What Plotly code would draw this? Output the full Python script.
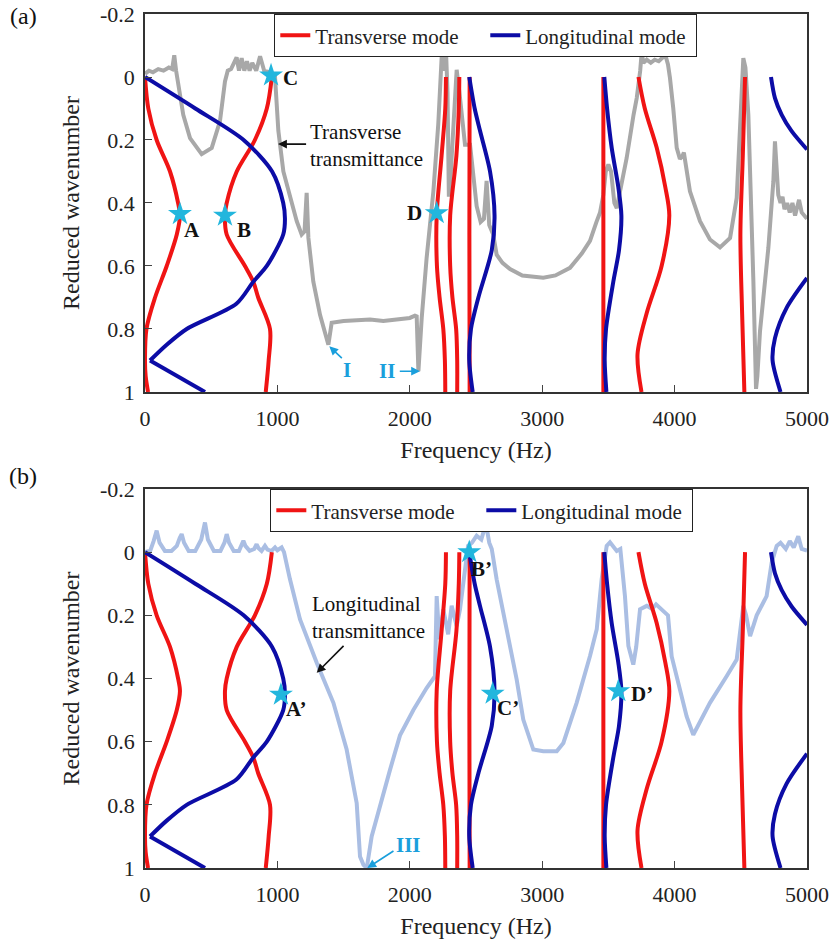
import plotly.graph_objects as go

# ---------------- data (frequency in Hz, reduced wavenumber) ----------------
# Transverse (red) dispersion branches: k values and frequencies
T1_k = [0, 0.1, 0.2, 0.3, 0.4, 0.44, 0.5, 0.6, 0.7, 0.8, 0.9, 0.95, 1.0]
T1_f = [0, 25, 88, 189, 250, 264, 240, 164, 76, 11, 0, 5, 23]
T2_k = [0, 0.1, 0.2, 0.3, 0.4, 0.44, 0.5, 0.6, 0.65, 0.7, 0.8, 0.9, 1.0]
T2_f = [958, 920, 830, 693, 617, 604, 617, 755, 818, 855, 944, 934, 912]
T3_k = [0, 0.1, 0.25, 0.44, 0.6, 0.7, 0.8, 0.9, 1.0]
T3_f = [2273, 2268, 2240, 2203, 2205, 2225, 2253, 2265, 2268]
T4_k = [0, 0.1, 0.25, 0.44, 0.6, 0.7, 0.8, 0.9, 1.0]
T4_f = [2374, 2370, 2352, 2305, 2305, 2322, 2350, 2358, 2358]
T5_k = [0, 0.5, 1.0]
T5_f = [2452, 2450, 2452]
T6_k = [0, 0.5, 1.0]
T6_f = [3462, 3462, 3462]
T7_k = [0, 0.1, 0.225, 0.35, 0.44, 0.6, 0.75, 0.88, 1.0]
T7_f = [3727, 3775, 3865, 3930, 3960, 3902, 3789, 3720, 3750]
T8_k = [0, 0.25, 0.5, 0.75, 1.0]
T8_f = [4532, 4515, 4497, 4510, 4527]

# Longitudinal (blue) dispersion branches
L1a_k = [0, 0.1, 0.2, 0.3, 0.4, 0.45, 0.5, 0.6, 0.65, 0.72, 0.8, 0.85, 0.9]
L1a_f = [0, 380, 745, 960, 1044, 1057, 1044, 920, 818, 690, 315, 164, 38]
L1b_k = [0.9, 0.95, 1.0]
L1b_f = [38, 245, 453]
L2_k = [0, 0.1, 0.17, 0.3, 0.44, 0.55, 0.7, 0.8, 0.9, 1.0]
L2_f = [2449, 2490, 2530, 2606, 2640, 2619, 2518, 2462, 2449, 2475]
L3_k = [0, 0.1, 0.225, 0.35, 0.44, 0.55, 0.65, 0.8, 0.9, 1.0]
L3_f = [3469, 3490, 3525, 3575, 3598, 3580, 3537, 3482, 3472, 3485]
L4a_k = [0, 0.067, 0.12, 0.172, 0.23]
L4a_f = [4728, 4758, 4809, 4884, 5000]
L4b_k = [0.638, 0.733, 0.829, 0.9, 1.0]
L4b_f = [5000, 4846, 4758, 4740, 4800]

# Transverse transmittance (gray, panel a)
TT_f = [0, 30, 60, 100, 140, 180, 205, 221, 235, 252, 289, 340, 428, 504, 566, 604, 625,
        650, 692, 710, 730, 750, 770, 790, 810, 840, 869, 900, 940, 982, 1007, 1045, 1095,
        1146, 1183, 1205, 1221, 1234, 1271, 1322, 1385, 1410, 1500, 1600, 1700, 1800, 1900,
        2000, 2039, 2052, 2065, 2090, 2127, 2178, 2215, 2241, 2258, 2273, 2285, 2295, 2310,
        2340, 2354, 2375, 2417, 2455, 2505, 2535, 2560, 2580, 2600, 2630, 2656, 2700, 2757,
        2850, 3008, 3100, 3210, 3300, 3361, 3410, 3437, 3462, 3480, 3500, 3520, 3545, 3563,
        3580, 3638, 3690, 3714, 3740, 3751, 3765, 3790, 3820, 3850, 3880, 3910, 3930, 3950,
        3965, 3990, 4016, 4040, 4060, 4070, 4090, 4116, 4192, 4267, 4343, 4419, 4469, 4494,
        4519, 4535, 4557, 4595, 4615, 4625, 4645, 4708, 4746, 4758, 4770, 4783, 4800, 4815,
        4830, 4850, 4870, 4890, 4910, 4940, 4960, 4980, 5000]
TT_k = [-0.01, -0.02, -0.015, -0.025, -0.02, -0.03, -0.025, -0.069, -0.02, 0.024, 0.12, 0.194, 0.245, 0.225, 0.141, 0.014, -0.02,
        -0.025, -0.062, -0.02, -0.06, -0.02, -0.05, -0.02, -0.045, -0.02, -0.066, -0.02, -0.015, 0.0, 0.17, 0.3, 0.384,
        0.458, 0.5, 0.49, 0.368, 0.511, 0.649, 0.755, 0.85, 0.78, 0.775, 0.772, 0.77, 0.775, 0.77,
        0.765, 0.758, 0.76, 0.934, 0.765, 0.575, 0.363, 0.15, -0.066, -0.02, -0.087, 0.05, 0.38, 0.3,
        0.05, -0.023, 0.05, 0.215, 0.215, 0.41, 0.46, 0.45, 0.33, 0.47, 0.5, 0.564, 0.59, 0.61,
        0.63, 0.637, 0.63, 0.606, 0.56, 0.52, 0.46, 0.43, 0.374, 0.3, 0.278, 0.3, 0.4, 0.416,
        0.38, 0.257, 0.12, 0.067, -0.02, -0.076, -0.045, -0.055, -0.045, -0.055, -0.05, -0.06, -0.07, -0.04,
        0.003, 0.1, 0.225, 0.26, 0.25, 0.24, 0.3, 0.363, 0.458, 0.516, 0.541, 0.511, 0.384, 0.172,
        -0.06, -0.03, 0.12, 0.649, 0.99, 0.95, 0.807, 0.543, 0.331, 0.204, 0.3, 0.374, 0.4, 0.38,
        0.42, 0.4, 0.43, 0.4, 0.44, 0.39, 0.43, 0.44, 0.45]

# Longitudinal transmittance (light blue, panel b)
LT_f = [0, 40, 65, 88, 110, 150, 200, 240, 262, 277, 295, 330, 380, 425, 453, 475, 520,
        570, 600, 617, 635, 670, 710, 730, 743, 758, 790, 825, 843, 858, 880, 906, 925,
        955, 982, 1000, 1020, 1032, 1050, 1095, 1171, 1297, 1423, 1523, 1599, 1624,
        1650, 1675, 1712, 1775, 1850, 1926, 2027, 2127, 2190, 2203, 2223, 2253, 2290, 2316,
        2354, 2379, 2417, 2440, 2470, 2505, 2540, 2575, 2600, 2619, 2656, 2732, 2807, 2857,
        2933, 3008, 3110, 3160, 3260, 3361, 3412, 3449, 3487, 3512, 3540, 3563, 3590, 3625,
        3651, 3688, 3710, 3739, 3790, 3830, 3860, 3900, 3950, 3978, 4016, 4091, 4141, 4267,
        4393, 4469, 4519, 4540, 4570, 4620, 4695, 4733, 4771, 4800, 4840, 4870, 4900, 4934,
        4960, 5000]
LT_k = [0.0, -0.005, -0.035, -0.068, -0.03, -0.004, -0.004, -0.02, -0.045, -0.057, -0.03, -0.004, -0.004, -0.04, -0.094, -0.04, -0.004,
        -0.004, -0.03, -0.057, -0.03, -0.004, -0.004, -0.025, -0.036, -0.02, -0.004, -0.01, -0.025, -0.012, -0.004, -0.02, -0.008,
        -0.004, -0.015, -0.006, -0.012, -0.015, 0.0, 0.086, 0.213, 0.35, 0.477, 0.625, 0.795, 0.964,
        0.99, 1.0, 0.9, 0.8, 0.69, 0.58, 0.5, 0.43, 0.393, 0.139, 0.276, 0.181, 0.26, 0.17,
        0.234, 0.181, 0.065, -0.02, -0.03, -0.052, -0.04, -0.09, -0.03, -0.01, 0.086, 0.244, 0.403, 0.53,
        0.625, 0.63, 0.63, 0.604, 0.477, 0.329, 0.244, 0.086, -0.02, -0.031, -0.015, -0.004, -0.01, 0.139,
        0.297, 0.356, 0.3, 0.181, 0.17, 0.18, 0.165, 0.18, 0.2, 0.33, 0.393, 0.52, 0.578, 0.477,
        0.393, 0.34, 0.17, 0.2, 0.266, 0.2, 0.139, 0.033, -0.02, -0.03, -0.01, -0.035, -0.015, -0.05,
        -0.01, -0.005]

# Marked points
STAR_A_f = [264, 604, 952, 2203]
STAR_A_k = [0.435, 0.44, -0.005, 0.432]
STAR_B_f = [1027, 2449, 2626, 3575]
STAR_B_k = [0.451, 0.0, 0.448, 0.44]

X_TICKS = [0, 1000, 2000, 3000, 4000, 5000]
Y_TICKS = [-0.2, 0, 0.2, 0.4, 0.6, 0.8, 1]
Y_TICK_TEXT = ["-0.2", "0", "0.2", "0.4", "0.6", "0.8", "1"]

# ---------------- style ----------------
RED = "#f01414"
BLUE = "#0c0ca6"
GRAY = "#a8a8a8"
LBLUE = "#aabee3"
CYAN = "#22b6dd"
LBL_BLUE = "#1a9fdc"
FONT = "Liberation Serif"

fig = go.Figure()

T_curves = [(T1_f, T1_k), (T2_f, T2_k), (T3_f, T3_k), (T4_f, T4_k), (T5_f, T5_k),
            (T6_f, T6_k), (T7_f, T7_k), (T8_f, T8_k)]
L_curves = [(L1a_f, L1a_k, "spline"), (L1b_f, L1b_k, "linear"), (L2_f, L2_k, "spline"),
            (L3_f, L3_k, "spline"), (L4a_f, L4a_k, "spline"), (L4b_f, L4b_k, "spline")]

for panel in (1, 2):
    xa = "x" if panel == 1 else "x2"
    ya = "y" if panel == 1 else "y2"
    lg = "legend" if panel == 1 else "legend2"
    if panel == 1:
        fig.add_trace(go.Scatter(x=TT_f, y=TT_k, mode="lines", line=dict(color=GRAY, width=4),
                                 showlegend=False, xaxis=xa, yaxis=ya))
    else:
        fig.add_trace(go.Scatter(x=LT_f, y=LT_k, mode="lines", line=dict(color=LBLUE, width=4),
                                 showlegend=False, xaxis=xa, yaxis=ya))
    for i, (f, k) in enumerate(T_curves):
        fig.add_trace(go.Scatter(x=f, y=k, mode="lines",
                                 line=dict(color=RED, width=4, shape="spline", smoothing=0.9),
                                 name="Transverse mode", legend=lg, showlegend=(i == 0),
                                 xaxis=xa, yaxis=ya))
    for i, (f, k, sh) in enumerate(L_curves):
        ln = dict(color=BLUE, width=4, shape=sh)
        if sh == "spline":
            ln["smoothing"] = 0.8
        fig.add_trace(go.Scatter(x=f, y=k, mode="lines", line=ln,
                                 name="Longitudinal mode", legend=lg, showlegend=(i == 0),
                                 xaxis=xa, yaxis=ya))
    sf, sk = (STAR_A_f, STAR_A_k) if panel == 1 else (STAR_B_f, STAR_B_k)
    fig.add_trace(go.Scatter(x=sf, y=sk, mode="markers",
                             marker=dict(symbol="star", size=18, color=CYAN, line=dict(width=0)),
                             showlegend=False, xaxis=xa, yaxis=ya))

axis_common = dict(range=[0, 5000], tickvals=X_TICKS, ticks="inside", ticklen=7,
                   showline=True, linecolor="#333", linewidth=1.5, mirror=True,
                   showgrid=False, zeroline=False, automargin=False,
                   tickfont=dict(family=FONT, size=22, color="#222"),
                   title=dict(text="Frequency (Hz)", font=dict(family=FONT, size=24, color="#222"),
                              standoff=11),
                   ticklabelstandoff=6)
yaxis_common = dict(range=[1, -0.2], tickvals=Y_TICKS, ticktext=Y_TICK_TEXT, ticks="inside",
                    ticklen=7, showline=True, linecolor="#333", linewidth=1.5, mirror=True,
                    showgrid=False, zeroline=False, automargin=False,
                    tickfont=dict(family=FONT, size=22, color="#222"),
                    title=dict(text="Reduced wavenumber", font=dict(family=FONT, size=24, color="#222"),
                               standoff=14),
                    ticklabelstandoff=4)

legend_common = dict(orientation="h", xanchor="left", yanchor="top", bgcolor="white",
                     bordercolor="#222", borderwidth=1.2,
                     font=dict(family=FONT, size=21, color="#222"),
                     entrywidth=165, entrywidthmode="pixels", itemwidth=30)

fig.update_layout(
    template="none",
    width=832, height=941,
    margin=dict(l=145, r=25, t=14, b=73, autoexpand=False),
    paper_bgcolor="white", plot_bgcolor="white",
    xaxis=dict(domain=[0, 1], anchor="y", **axis_common),
    yaxis=dict(domain=[0.5574, 1], anchor="x", **yaxis_common),
    xaxis2=dict(domain=[0, 1], anchor="y2", **axis_common),
    yaxis2=dict(domain=[0, 0.4438], anchor="x2", **yaxis_common),
    legend=dict(x=0.195, y=1.0, **legend_common),
    legend2=dict(x=0.189, y=0.4438, **legend_common),
)

ann = []
def label(text, x, y, xr, yr, size=21, color="#111", bold=True, xanchor="center"):
    t = f"<b>{text}</b>" if bold else text
    ann.append(dict(text=t, x=x, y=y, xref=xr, yref=yr, showarrow=False, xanchor=xanchor,
                    yanchor="middle", font=dict(family=FONT, size=size, color=color)))

def arrow(x0, y0, x1, y1, xr, yr, color):
    ann.append(dict(text="", x=x1, y=y1, ax=x0, ay=y0, xref=xr, yref=yr, axref=xr, ayref=yr,
                    showarrow=True, arrowhead=2, arrowsize=1.1, arrowwidth=1.6, arrowcolor=color))

# panel labels
label("(a)", -0.184, 0.9977, "paper", "paper", size=24, bold=False)
label("(b)", -0.184, 0.459, "paper", "paper", size=24, bold=False)

# panel (a)
label("A", 352, 0.485, "x", "y")
label("B", 750, 0.485, "x", "y")
label("C", 1100, 0.003, "x", "y")
label("D", 2039, 0.432, "x", "y")
label("Transverse<br>transmittance", 1231, 0.217, "x", "y", size=21, bold=False, xanchor="left")
ann[-1]["align"] = "left"
arrow(1228, 0.213, 1005, 0.213, "x", "y", "#111")
label("I", 1523, 0.929, "x", "y", color=LBL_BLUE)
arrow(1498, 0.897, 1392, 0.855, "x", "y", LBL_BLUE)
label("II", 1825, 0.934, "x", "y", color=LBL_BLUE)
arrow(1913, 0.934, 2077, 0.934, "x", "y", LBL_BLUE)

# panel (b)
label("A\u2019", 1146, 0.498, "x2", "y2")
label("B\u2019", 2543, 0.054, "x2", "y2")
label("C\u2019", 2744, 0.493, "x2", "y2")
label("D\u2019", 3751, 0.448, "x2", "y2")
label("Longitudinal<br>transmittance", 1246, 0.207, "x2", "y2", size=21, bold=False, xanchor="left")
ann[-1]["align"] = "left"
arrow(1511, 0.292, 1297, 0.382, "x2", "y2", "#111")
label("III", 1989, 0.927, "x2", "y2", color=LBL_BLUE)
arrow(1888, 0.943, 1679, 1.0, "x2", "y2", LBL_BLUE)

fig.update_layout(annotations=ann)
fig.write_html("out.html", config={"displayModeBar": False},
               post_script="document.body.style.margin='0';")
